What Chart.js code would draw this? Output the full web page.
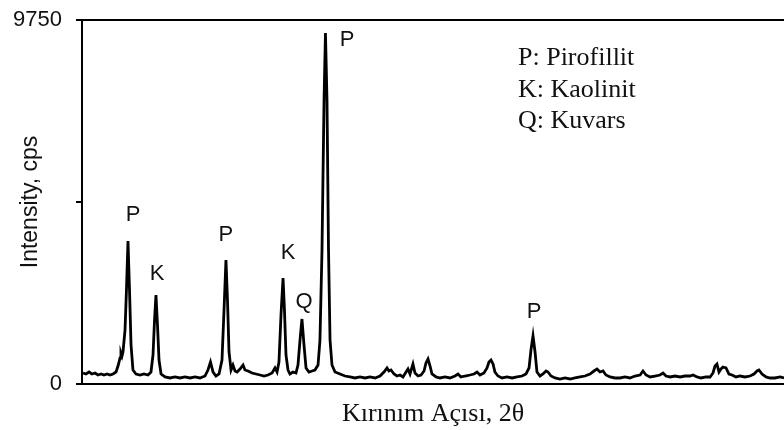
<!DOCTYPE html>
<html>
<head>
<meta charset="utf-8">
<script src="https://cdn.jsdelivr.net/npm/chart.js@4.4.1/dist/chart.umd.min.js"></script>
<style>
  html, body { margin: 0; padding: 0; background: #fff; }
  #wrap { width: 784px; height: 430px; }
</style>
</head>
<body>
<div id="wrap"><canvas id="xrdChart" width="784" height="430"></canvas></div>
<script>
// 2θ (degrees)
const twoTheta = [
  5.10, 5.39, 5.69, 5.98, 6.28, 6.57, 6.87, 7.16, 7.46, 7.75, 8.05, 8.34, 8.54, 8.74, 8.83, 8.93, 9.03, 9.23, 9.37, 9.52,
  9.67, 9.82, 10.01, 10.31, 10.70, 11.09, 11.49, 11.78, 11.98, 12.13, 12.27, 12.42, 12.57, 12.77, 13.16, 13.65, 14.14, 14.63, 15.12, 15.62,
  16.11, 16.60, 17.09, 17.38, 17.63, 17.88, 18.17, 18.47, 18.76, 18.96, 19.15, 19.30, 19.45, 19.65, 19.84, 20.04, 20.24, 20.53, 20.83, 21.02,
  21.32, 21.71, 22.10, 22.50, 22.89, 23.28, 23.68, 23.97, 24.17, 24.36, 24.56, 24.76, 24.90, 25.05, 25.25, 25.44, 25.74, 26.03, 26.23, 26.43,
  26.62, 26.82, 27.02, 27.31, 27.61, 27.90, 28.20, 28.39, 28.59, 28.79, 28.93, 29.08, 29.23, 29.38, 29.57, 29.87, 30.36, 30.85, 31.34, 31.83,
  32.32, 32.82, 33.31, 33.80, 34.29, 34.68, 34.98, 35.17, 35.37, 35.67, 35.96, 36.26, 36.55, 36.85, 37.04, 37.24, 37.53, 37.73, 38.03, 38.32,
  38.62, 38.81, 39.01, 39.21, 39.40, 39.80, 40.19, 40.68, 41.17, 41.66, 41.96, 42.25, 42.65, 43.14, 43.53, 43.83, 44.12, 44.51, 44.81, 45.00,
  45.20, 45.40, 45.59, 45.89, 46.28, 46.77, 47.27, 47.76, 48.25, 48.64, 48.94, 49.13, 49.33, 49.53, 49.72, 50.02, 50.31, 50.61, 50.80, 51.10,
  51.49, 51.98, 52.47, 52.97, 53.46, 53.95, 54.44, 54.93, 55.32, 55.62, 55.91, 56.21, 56.50, 56.90, 57.39, 57.88, 58.37, 58.86, 59.35, 59.85,
  60.14, 60.44, 60.83, 61.32, 61.81, 62.11, 62.40, 62.80, 63.29, 63.78, 64.27, 64.76, 65.06, 65.45, 65.84, 66.33, 66.73, 67.02, 67.22, 67.41,
  67.61, 67.81, 68.00, 68.30, 68.59, 68.89, 69.28, 69.68, 70.17, 70.66, 71.05, 71.35, 71.54, 71.84, 72.23, 72.62, 73.11, 73.61, 74.00
];

// intensity (cps) at each 2θ
const intensity = [
  295, 268, 321, 268, 295, 241, 268, 241, 268, 241, 268, 321, 482, 697, 830, 750, 857, 1447, 2518, 3831,
  2518, 1045, 375, 268, 241, 268, 241, 321, 777, 1715, 2384, 1581, 643, 268, 188, 161, 188, 161, 188, 161,
  188, 161, 214, 375, 589, 321, 214, 268, 643, 1982, 3322, 2250, 857, 375, 509, 348, 321, 402, 509, 375,
  348, 295, 268, 241, 214, 241, 295, 429, 321, 589, 1849, 2840, 1982, 777, 375, 268, 321, 295, 509, 1179,
  1741, 1045, 429, 321, 348, 375, 509, 1179, 3590, 7608, 9403, 7608, 3590, 1179, 509, 321, 268, 214, 188, 161,
  188, 161, 188, 161, 214, 321, 429, 348, 375, 268, 214, 241, 188, 321, 402, 268, 536, 295, 214, 241,
  348, 563, 670, 482, 268, 188, 161, 188, 161, 214, 268, 188, 214, 241, 268, 321, 241, 295, 429, 589,
  643, 536, 321, 214, 161, 188, 161, 188, 214, 268, 429, 911, 1286, 857, 321, 214, 268, 348, 321, 214,
  161, 134, 161, 134, 161, 188, 214, 268, 348, 402, 321, 348, 241, 188, 161, 161, 188, 161, 214, 241,
  348, 241, 188, 214, 241, 295, 214, 188, 214, 188, 214, 214, 241, 188, 161, 188, 188, 295, 482, 536,
  321, 402, 455, 429, 268, 241, 188, 214, 188, 214, 268, 348, 375, 268, 188, 161, 161, 188, 161
];

// y axis
const yMin = 0;
const yMax = 9750;
const yStep = 4875;
const yLabelled = [0, 9750];

// x range (2θ)
const xMin = 5;
const xMax = 74;

// peak phase labels: text, 2θ, cps where the letter sits
const peakText = ['P', 'K', 'P', 'K', 'Q', 'P', 'P'];
const peakX = [10.01, 12.37, 19.15, 25.25, 26.82, 31.05, 49.43];
const peakY = [4528, 2947, 3992, 3509, 2197, 9216, 1929];

const legendLines = ['P: Pirofillit', 'K: Kaolinit', 'Q: Kuvars'];

const yTitle = 'Intensity, cps';
const xTitle = 'Kırınım Açısı, 2θ';

const SANS = '"Liberation Sans", Arial, sans-serif';
const SERIF = '"Liberation Serif", "Times New Roman", serif';

// draws the phase letters and the key text
const notesPlugin = {
  id: 'notes',
  afterDatasetsDraw(chart) {
    const { ctx, scales: { x, y }, chartArea } = chart;
    ctx.save();
    ctx.fillStyle = '#111';
    ctx.font = '22px ' + SANS;
    ctx.textAlign = 'center';
    ctx.textBaseline = 'middle';
    peakText.forEach((t, i) => {
      ctx.fillText(t, x.getPixelForValue(peakX[i]), y.getPixelForValue(peakY[i]));
    });
    ctx.font = '26px ' + SERIF;
    ctx.textAlign = 'left';
    ctx.textBaseline = 'alphabetic';
    legendLines.forEach((t, i) => {
      ctx.fillText(t, chartArea.left + 436, chartArea.top + 45 + i * 31.5);
    });
    ctx.restore();
  }
};

const ctx = document.getElementById('xrdChart').getContext('2d');
new Chart(ctx, {
  type: 'line',
  data: {
    datasets: [{
      data: twoTheta.map((t, i) => ({ x: t, y: intensity[i] })),
      borderColor: '#000',
      borderWidth: 2.8,
      pointRadius: 0,
      tension: 0,
      fill: false
    }]
  },
  options: {
    responsive: false,
    animation: false,
    events: [],
    layout: { padding: { top: 20, right: 0, bottom: 0, left: 0 } },
    plugins: { legend: { display: false }, tooltip: { enabled: false } },
    scales: {
      x: {
        type: 'linear',
        position: 'bottom',
        min: xMin,
        max: xMax,
        ticks: { display: false },
        grid: { display: false, drawTicks: false },
        border: { display: true, color: '#000', width: 2 },
        title: {
          display: true,
          text: xTitle,
          color: '#111',
          font: { family: SERIF, size: 26 },
          padding: { top: 0, bottom: 0 }
        },
        afterFit(scale) { scale.height = 46; }
      },
      x2: {
        type: 'linear',
        position: 'top',
        min: xMin,
        max: xMax,
        ticks: { display: false },
        grid: { display: false, drawTicks: false },
        border: { display: true, color: '#000', width: 2 },
        afterFit(scale) { scale.height = 0; }
      },
      y: {
        min: yMin,
        max: yMax,
        ticks: {
          stepSize: yStep,
          padding: 14,
          color: '#111',
          font: { family: SANS, size: 22 },
          callback: (v) => yLabelled.includes(v) ? String(v) : ''
        },
        grid: {
          display: true,
          drawOnChartArea: false,
          drawTicks: true,
          tickLength: 6,
          color: '#000',
          lineWidth: 2
        },
        border: { display: true, color: '#000', width: 2 },
        title: {
          display: true,
          text: yTitle,
          color: '#111',
          font: { family: SANS, size: 23 },
          padding: { top: 17, bottom: 0 }
        },
        afterFit(scale) {
          scale.width = 82;
          scale.paddingTop = 13;
          scale.paddingBottom = 13;
        }
      }
    }
  },
  plugins: [notesPlugin]
});
</script>
</body>
</html>
